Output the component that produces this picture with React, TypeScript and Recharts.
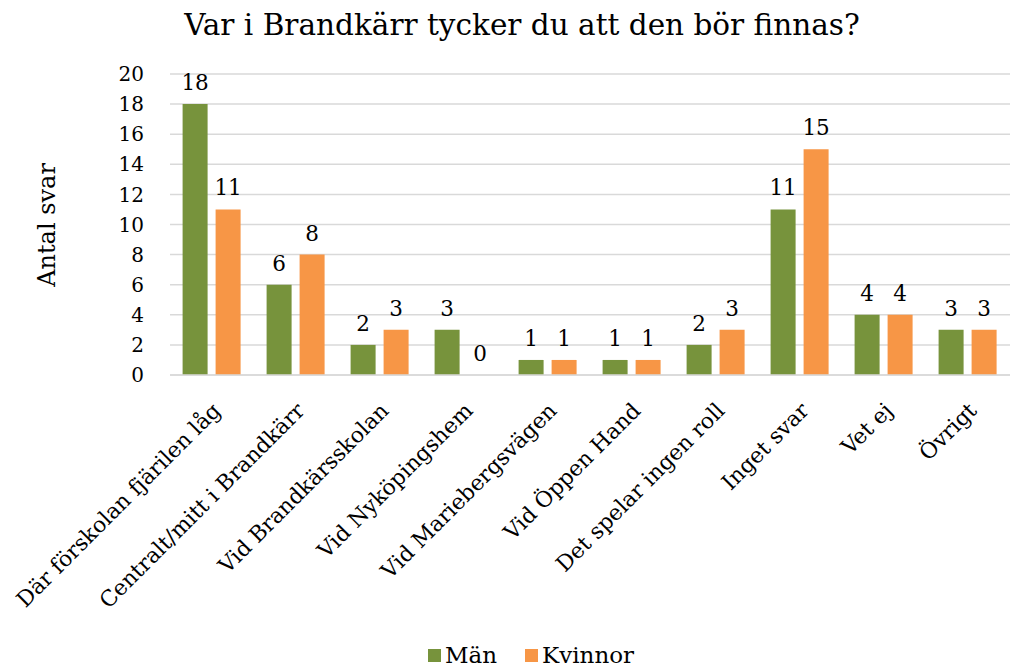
import React from "react";
import { BarChart, Bar, XAxis, YAxis, CartesianGrid, Legend, LabelList } from "recharts";

const categories = [
  "Där förskolan fjärilen låg",
  "Centralt/mitt i Brandkärr",
  "Vid Brandkärsskolan",
  "Vid Nyköpingshem",
  "Vid Mariebergsvägen",
  "Vid Öppen Hand",
  "Det spelar ingen roll",
  "Inget svar",
  "Vet ej",
  "Övrigt",
];
const manValues = [18, 6, 2, 3, 1, 1, 2, 11, 4, 3];
const kvinnorValues = [11, 8, 3, 0, 1, 1, 3, 15, 4, 3];
const yTicks = [0, 2, 4, 6, 8, 10, 12, 14, 16, 18, 20];
const seriesNames = ["Män", "Kvinnor"];
const seriesColors = ["#77933C", "#F79646"];

const data = categories.map((c, i) => ({ name: c, man: manValues[i], kvinnor: kvinnorValues[i] }));

const FONT = "DejaVu Serif";
const BAR_GAP = 8;
const LABEL_OFFSET = 14;
const LABEL_SIZE = 21.5;

const CatTick = (props: any) => {
  const { x, y, payload } = props;
  const ax = x + 10;
  const ay = y + 29;
  return (
    <text
      x={ax}
      y={ay}
      transform={`rotate(-45, ${ax}, ${ay})`}
      textAnchor="end"
      fontFamily={FONT}
      fontSize={21.8}
      fill="#000"
    >
      {payload.value}
    </text>
  );
};

// Label for Män bars; also draws the zero label of the neighbouring Kvinnor bar,
// since zero-height bars receive no label of their own.
const ManLabel = (props: any) => {
  const { x, y, width, height, value, index } = props;
  const els = [
    <text key="m" x={x + width / 2} y={y - LABEL_OFFSET} textAnchor="middle" fontFamily={FONT} fontSize={LABEL_SIZE} fill="#000">
      {value}
    </text>,
  ];
  if (kvinnorValues[index] === 0) {
    els.push(
      <text
        key="k"
        x={x + width + BAR_GAP + width / 2}
        y={y + height - LABEL_OFFSET}
        textAnchor="middle"
        fontFamily={FONT}
        fontSize={LABEL_SIZE}
        fill="#000"
      >
        0
      </text>
    );
  }
  return <g>{els}</g>;
};

const KvinnorLabel = (props: any) => {
  const { x, y, width, value } = props;
  if (value === 0) return null;
  return (
    <text x={x + width / 2} y={y - LABEL_OFFSET} textAnchor="middle" fontFamily={FONT} fontSize={LABEL_SIZE} fill="#000">
      {value}
    </text>
  );
};

const LegendContent = () => (
  <div
    style={{
      display: "flex",
      justifyContent: "center",
      alignItems: "center",
      fontFamily: FONT,
      fontSize: 23,
      lineHeight: "26px",
      color: "#000",
      paddingLeft: 52,
    }}
  >
    {seriesNames.map((n, i) => (
      <div key={n} style={{ display: "flex", alignItems: "center", marginRight: i === 0 ? 28 : 0 }}>
        <span style={{ display: "inline-block", width: 13, height: 13, background: seriesColors[i], marginRight: 4 }} />
        <span>{n}</span>
      </div>
    ))}
  </div>
);

export default function App() {
  return (
    <div style={{ position: "absolute", left: 0, top: 0, width: 1012, height: 666, background: "#fff" }}>
      <div
        style={{
          position: "absolute",
          left: 0,
          top: 7,
          width: 1044,
          textAlign: "center",
          fontFamily: FONT,
          fontSize: 29.5,
          color: "#000",
          lineHeight: "36px",
          whiteSpace: "nowrap",
        }}
      >
        Var i Brandkärr tycker du att den bör finnas?
      </div>
      <div
        style={{
          position: "absolute",
          left: 47,
          top: 225,
          transform: "translate(-50%, -50%) rotate(-90deg)",
          fontFamily: FONT,
          fontSize: 24,
          whiteSpace: "nowrap",
          color: "#000",
        }}
      >
        Antal svar
      </div>
      <BarChart
        width={1012}
        height={666}
        data={data}
        margin={{ top: 74, right: 2, bottom: 0, left: 0 }}
        barCategoryGap="15%"
        barGap={BAR_GAP}
      >
        <CartesianGrid vertical={false} stroke="#D9D9D9" strokeWidth={1.5} />
        <XAxis
          dataKey="name"
          interval={0}
          tick={<CatTick />}
          tickLine={false}
          axisLine={{ stroke: "#D9D9D9", strokeWidth: 1.5 }}
          height={267}
        />
        <YAxis
          width={170}
          domain={[0, 20]}
          ticks={yTicks}
          tickLine={false}
          axisLine={false}
          tick={{ fontFamily: FONT, fontSize: 20, fill: "#000" }}
          tickMargin={20}
        />
        <Legend verticalAlign="bottom" height={24} content={<LegendContent />} />
        <Bar dataKey="man" name="Män" fill={seriesColors[0]} isAnimationActive={false}>
          <LabelList dataKey="man" content={<ManLabel />} />
        </Bar>
        <Bar dataKey="kvinnor" name="Kvinnor" fill={seriesColors[1]} isAnimationActive={false}>
          <LabelList dataKey="kvinnor" content={<KvinnorLabel />} />
        </Bar>
      </BarChart>
    </div>
  );
}
